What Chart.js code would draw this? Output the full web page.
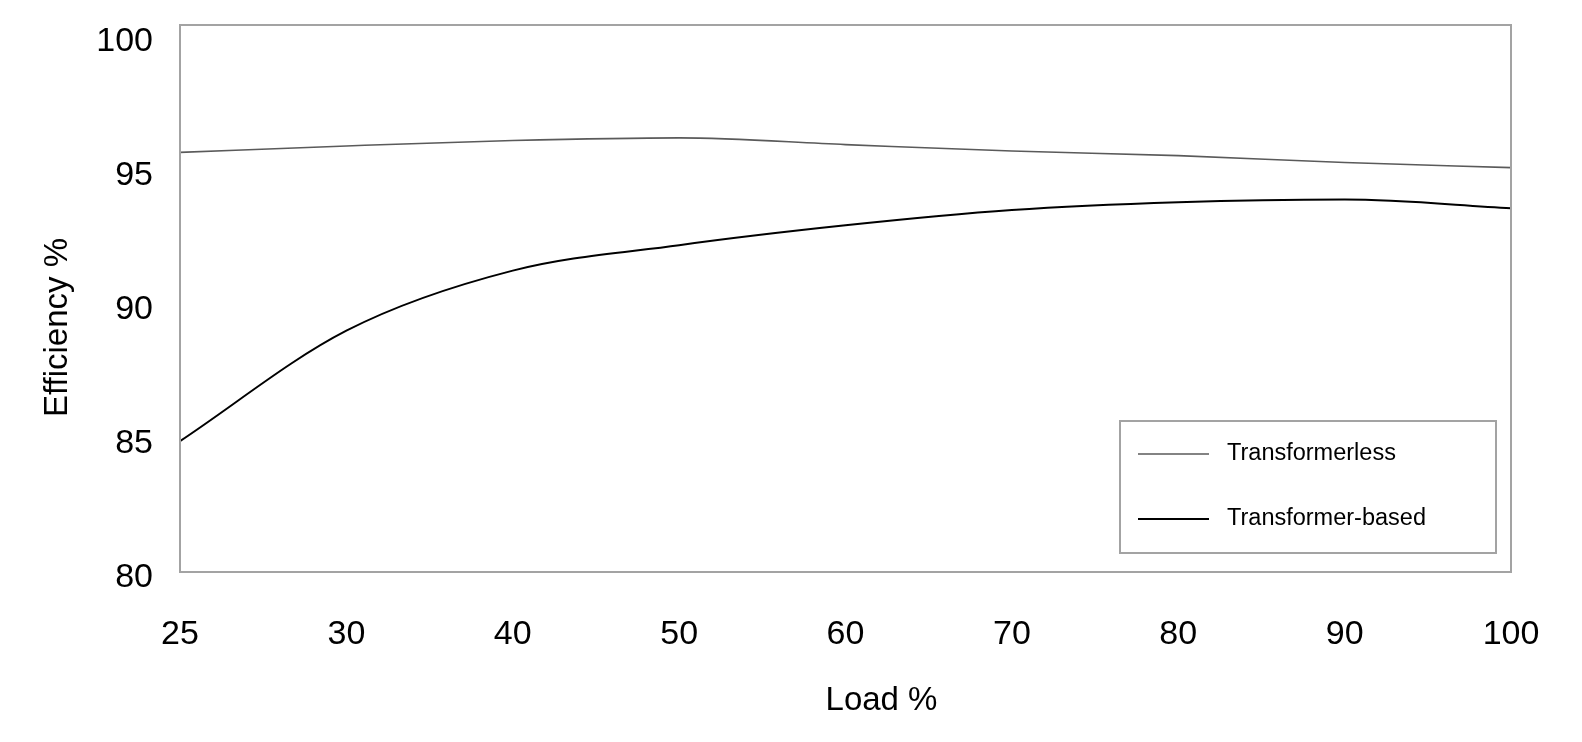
<!DOCTYPE html>
<html>
<head>
<meta charset="utf-8">
<script src="https://cdn.jsdelivr.net/npm/chart.js@4.4.1/dist/chart.umd.min.js"></script>
<style>
html, body { margin: 0; padding: 0; background: #fff; }
#wrap { width: 1582px; height: 742px; }
</style>
</head>
<body>
<div id="wrap"><canvas id="efficiency-chart"></canvas></div>
<script>
var loadLabels = ["25", "30", "40", "50", "60", "70", "80", "90", "100"];
var transformerless = [95.65, 95.89, 96.09, 96.19, 95.94, 95.70, 95.53, 95.27, 95.08];
var transformerBased = [84.88, 89.0, 91.24, 92.19, 92.93, 93.50, 93.79, 93.89, 93.57];
var yTicks = [80, 85, 90, 95, 100];

var fontFamily = '"Liberation Sans", Arial, sans-serif';

// plot frame, boxed legend and the two axis titles (set a bit off-centre, as in the original)
var frameAndLegend = {
    id: 'frameAndLegend',
    afterDraw: function(chart) {
        var ctx = chart.ctx;
        var a = chart.chartArea;
        ctx.save();
        ctx.strokeStyle = '#a3a3a3';
        ctx.lineWidth = 2;
        ctx.strokeRect(a.left, a.top, a.right - a.left, a.bottom - a.top);

        var x0 = a.right - 391, y0 = a.bottom - 151;
        ctx.strokeRect(x0, y0, 376, 132);
        ctx.font = '23.5px ' + fontFamily;
        ctx.textBaseline = 'middle';
        ctx.textAlign = 'left';
        ctx.fillStyle = '#000';
        chart.data.datasets.forEach(function(ds, i) {
            var y = y0 + 33 + i * 65;
            ctx.strokeStyle = ds.borderColor;
            ctx.lineWidth = ds.borderWidth;
            ctx.beginPath();
            ctx.moveTo(x0 + 18, y);
            ctx.lineTo(x0 + 89, y);
            ctx.stroke();
            ctx.fillText(ds.label, x0 + 107, y);
        });

        ctx.font = '33px ' + fontFamily;
        ctx.textAlign = 'center';
        ctx.fillText('Load %', (a.left + a.right) / 2 + 36, a.bottom + 129);
        ctx.translate(a.left - 122, (a.top + a.bottom) / 2 + 29);
        ctx.rotate(-Math.PI / 2);
        ctx.fillText('Efficiency %', 0, 0);
        ctx.restore();
    }
};

document.addEventListener("DOMContentLoaded", function() {
    new Chart(document.getElementById("efficiency-chart"), {
        type: 'line',
        data: {
            labels: loadLabels,
            datasets: [
                {
                    label: "Transformerless",
                    borderColor: "#5a5a5a",
                    borderWidth: 1.6,
                    data: transformerless
                },
                {
                    label: "Transformer-based",
                    borderColor: "#000000",
                    borderWidth: 2,
                    data: transformerBased
                }
            ]
        },
        options: {
            responsive: true,
            maintainAspectRatio: false,
            animation: false,
            layout: { padding: { top: 25, right: 71, bottom: 0, left: 0 } },
            elements: {
                point: { radius: 0 },
                line: { cubicInterpolationMode: 'monotone', fill: false }
            },
            plugins: {
                legend: { display: false },
                tooltip: { enabled: false }
            },
            scales: {
                x: {
                    offset: false,
                    grid: { display: false, drawTicks: false },
                    border: { display: false },
                    ticks: {
                        color: '#000',
                        padding: 42,
                        maxRotation: 0,
                        autoSkip: false,
                        font: { family: fontFamily, size: 34 }
                    },
                    afterFit: function(axis) { axis.height = 170; }
                },
                y: {
                    min: 80,
                    max: 100.4,
                    grid: { display: false, drawTicks: false },
                    border: { display: false },
                    afterBuildTicks: function(axis) {
                        axis.ticks = yTicks.map(function(v) { return { value: v }; });
                    },
                    ticks: {
                        color: '#000',
                        padding: 27,
                        labelOffset: 6,
                        font: { family: fontFamily, size: 34 }
                    },
                    afterFit: function(axis) {
                        axis.width = 180;
                        axis.paddingTop = 0;
                        axis.paddingBottom = 0;
                    }
                }
            }
        },
        plugins: [frameAndLegend]
    });
});
</script>
</body>
</html>
